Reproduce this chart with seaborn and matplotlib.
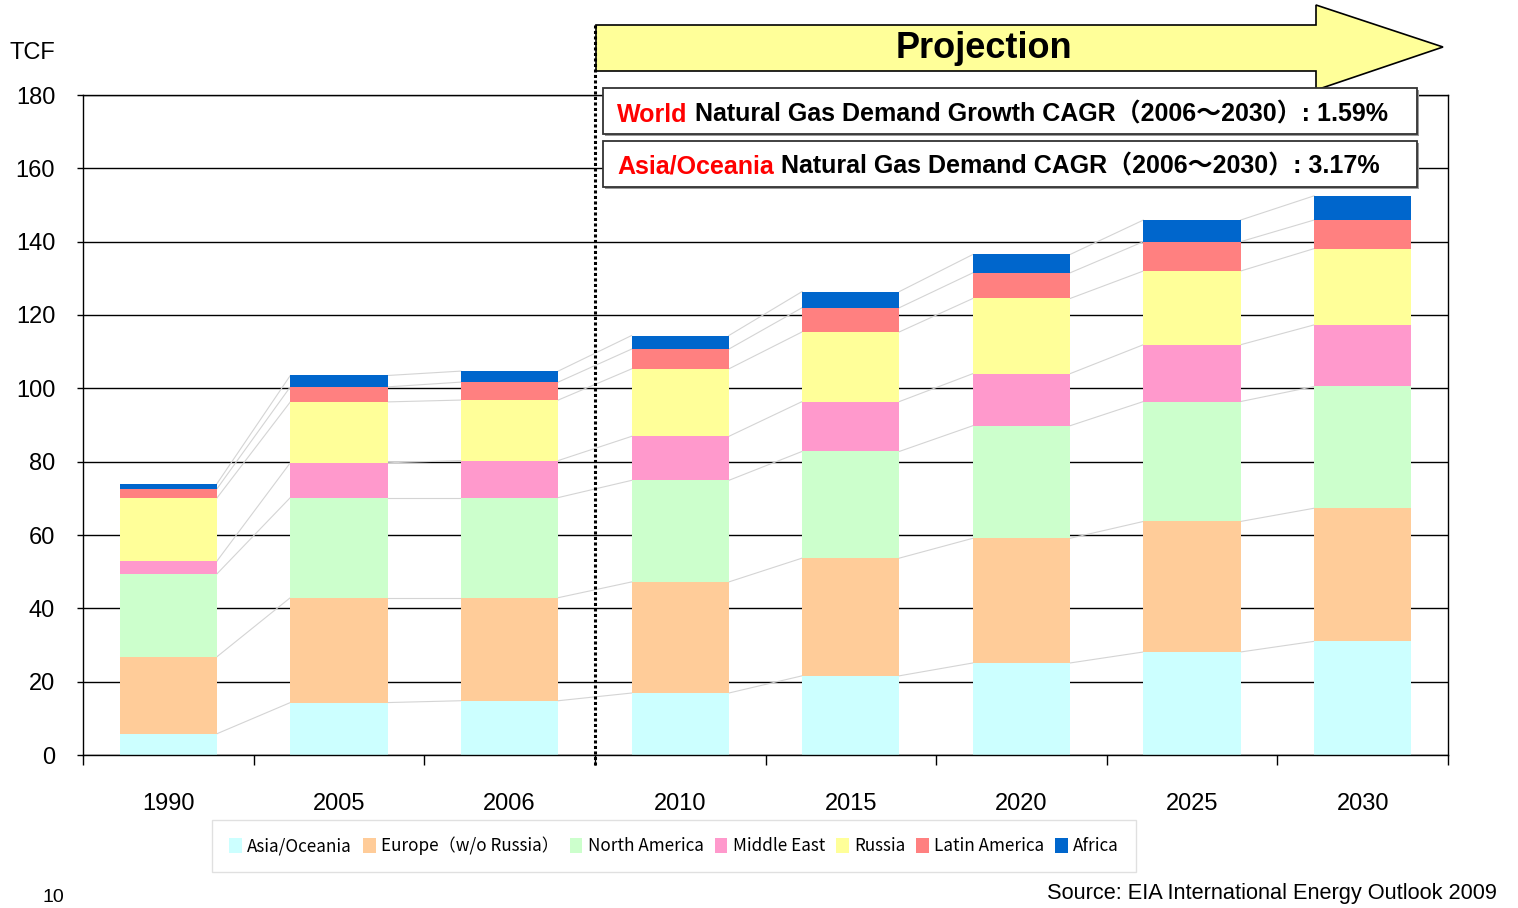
import numpy as np
import pandas as pd
import matplotlib
matplotlib.use("Agg")
import matplotlib.pyplot as plt
import seaborn as sns
from matplotlib.patches import Polygon, Rectangle, Patch
from matplotlib.ticker import FixedLocator

# ---------------- data ----------------
years = ["1990", "2005", "2006", "2010", "2015", "2020", "2025", "2030"]
regions = ["Asia/Oceania", "Europe（w/o Russia）", "North America", "Middle East",
           "Russia", "Latin America", "Africa"]
asia = [5.8, 14.3, 14.8, 16.9, 21.6, 25.1, 28.1, 31.0]
europe = [21.0, 28.6, 28.1, 30.3, 32.1, 34.0, 35.6, 36.3]
north_america = [22.6, 27.3, 27.3, 27.7, 29.1, 30.7, 32.7, 33.2]
middle_east = [3.5, 9.5, 10.1, 12.0, 13.6, 14.2, 15.5, 16.8]
russia = [17.2, 16.6, 16.5, 18.4, 19.0, 20.5, 20.1, 20.8]
latin_america = [2.5, 4.1, 4.9, 5.4, 6.6, 7.0, 8.0, 7.8]
africa = [1.4, 3.1, 3.0, 3.7, 4.4, 5.0, 5.9, 6.6]
yticks = [0, 20, 40, 60, 80, 100, 120, 140, 160, 180]
colors = ["#CCFFFF", "#FFCC99", "#CCFFCC", "#FF99CC", "#FFFF99", "#FF8080", "#0066CC"]

series = [asia, europe, north_america, middle_east, russia, latin_america, africa]
cum = np.cumsum(np.array(series), axis=0)

W, H = 1518, 908
fig = plt.figure(figsize=(W / 100, H / 100), dpi=100)
ax = fig.add_axes([83 / W, 1 - 755 / H, (1448 - 83) / W, (755 - 95) / H])

def fx(px):
    return px / W

def fy(py):
    return 1 - py / H

BAR_W = 0.57
# stacked bars: draw cumulative totals from top layer downward
for k in range(len(series) - 1, -1, -1):
    df = pd.DataFrame({"year": years, "value": cum[k]})
    sns.barplot(data=df, x="year", y="value", order=years, color=colors[k],
                saturation=1, width=BAR_W, errorbar=None, ax=ax,
                linewidth=0, edgecolor="none", zorder=2)

# connector lines between bars
for k in range(len(series)):
    for i in range(len(years) - 1):
        ax.plot([i + BAR_W / 2, i + 1 - BAR_W / 2], [cum[k][i], cum[k][i + 1]],
                color="#d4d4d4", lw=0.8, zorder=1.5)

ax.set_xlim(-0.5, len(years) - 0.5)
ax.set_ylim(0, 180)
ax.set_xlabel("")
ax.set_ylabel("")
ax.set_axisbelow(True)
ax.yaxis.grid(True, color="black", lw=1.0)
ax.xaxis.grid(False)
ax.set_yticks(yticks)
ax.set_yticklabels([str(v) for v in yticks], fontsize=17, family="Liberation Sans")
ax.set_xticks(range(len(years)))
ax.set_xticklabels(years, fontsize=17, family="Liberation Sans")
ax.xaxis.set_minor_locator(FixedLocator(np.arange(-0.5, len(years), 1.0)))
ax.tick_params(axis="x", which="major", length=0, pad=27)
ax.tick_params(axis="x", which="minor", length=7, width=1, direction="out")
ax.tick_params(axis="y", length=4, width=1, pad=16)
for s in ax.spines.values():
    s.set_linewidth(1.0)
    s.set_color("black")

# dotted separator
ax.plot([2.5, 2.5], [-2.7, 199.0], color="black", lw=2.2, dashes=(1, 0.8),
        clip_on=False, zorder=7)

# projection arrow
arrow_px = [(596, 25), (1316, 25), (1316, 5), (1443, 47), (1316, 90), (1316, 71), (596, 71)]
arrow = Polygon([(fx(x), fy(y)) for x, y in arrow_px], closed=True, transform=fig.transFigure,
                facecolor="#FFFF99", edgecolor="black", lw=1.2, clip_on=False, zorder=6)
ax.add_patch(arrow)
ax.text(fx(984), fy(49), "Projection", transform=fig.transFigure, ha="center", va="center",
        fontsize=26, fontweight="bold", family="Liberation Sans", zorder=9)

# CAGR boxes
for (y0, y1) in [(88, 134), (141, 187)]:
    ax.add_patch(Rectangle((fx(605), fy(y1 + 2)), fx(1419) - fx(605), fy(y0) - fy(y1),
                           transform=fig.transFigure, facecolor="#9a9a9a", edgecolor="none",
                           clip_on=False, zorder=7.5))
    ax.add_patch(Rectangle((fx(603), fy(y1)), fx(1417) - fx(603), fy(y0) - fy(y1),
                           transform=fig.transFigure, facecolor="white", edgecolor="#333333",
                           lw=1.3, clip_on=False, zorder=8))

fam = ["Liberation Sans", "Noto Sans CJK JP"]
lines = [("World", " Natural Gas Demand Growth CAGR（2006～2030）: 1.59%", 112),
         ("Asia/Oceania", " Natural Gas Demand CAGR（2006～2030）: 3.17%", 164)]
red_texts = []
for red, black, yy in lines:
    t = ax.text(fx(617), fy(yy), red, transform=fig.transFigure, color="#FF0000",
                fontsize=18, fontweight="bold", family=fam, ha="left", va="center_baseline",
                zorder=9)
    red_texts.append((t, black, yy))
fig.canvas.draw()
r = fig.canvas.get_renderer()
for t, black, yy in red_texts:
    bb = t.get_window_extent(renderer=r)
    ax.text(bb.x1 / fig.dpi / fig.get_figwidth(), fy(yy), black, transform=fig.transFigure,
            color="black", fontsize=18, fontweight="bold", family=fam, ha="left",
            va="center_baseline", zorder=9)

# axis unit
fig.text(fx(10), fy(53), "TCF", fontsize=17, family="Liberation Sans", ha="left", va="center")

# legend
handles = [Patch(facecolor=c, edgecolor="none") for c in colors]
leg = fig.legend(handles, regions, loc="center", bbox_to_anchor=(fx(674), fy(846)), ncol=7,
                 frameon=True, fancybox=False, edgecolor="#d9d9d9", handlelength=0.75,
                 handleheight=0.9, handletextpad=0.3, columnspacing=0.65, borderpad=1.0,
                 prop={"family": ["Noto Sans CJK JP"], "size": 12.3})
leg.get_frame().set_linewidth(1.0)

fig.text(fx(1497), fy(893), "Source: EIA International Energy Outlook 2009", fontsize=15.7,
         family="Liberation Sans", ha="right", va="center")
fig.text(fx(43), fy(897), "10", fontsize=14, family="Liberation Sans", ha="left", va="center")

fig.savefig("out.png", dpi=100)
